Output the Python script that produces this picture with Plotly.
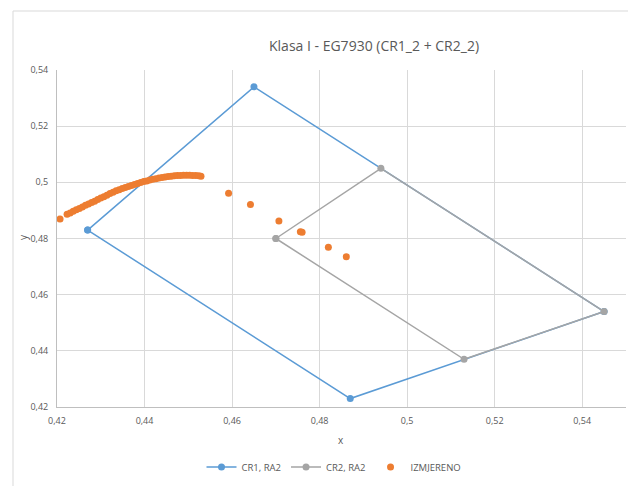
import plotly.graph_objects as go

# CR1, RA2 polygon (closed)
cr1_x = [0.427, 0.465, 0.545, 0.487, 0.427]
cr1_y = [0.483, 0.534, 0.454, 0.423, 0.483]

# CR2, RA2 polygon (closed)
cr2_x = [0.470, 0.494, 0.545, 0.513, 0.470]
cr2_y = [0.480, 0.505, 0.454, 0.437, 0.480]

# IZMJERENO measured points
izm_x = [0.4207, 0.4223, 0.4230, 0.4237, 0.4244, 0.4251, 0.4258, 0.4265, 0.4272, 0.4279,
         0.4286, 0.4293, 0.4300, 0.4307, 0.4314, 0.4321, 0.4328, 0.4335, 0.4342, 0.4349,
         0.4356, 0.4363, 0.4370, 0.4377, 0.4384, 0.4391, 0.4398, 0.4405, 0.4412, 0.4419,
         0.4426, 0.4433, 0.4440, 0.4447, 0.4454, 0.4461, 0.4468, 0.4475, 0.4482, 0.4489,
         0.4496, 0.4503, 0.4510, 0.4517, 0.4524, 0.4529,
         0.4592, 0.4642, 0.4707, 0.4756, 0.4760, 0.4820, 0.4861]
izm_y = [0.4869, 0.4886, 0.4891, 0.4897, 0.4902, 0.4907, 0.4912, 0.4918, 0.4923, 0.4928,
         0.4933, 0.4939, 0.4944, 0.4949, 0.4954, 0.4960, 0.4965, 0.4970, 0.4974, 0.4978,
         0.4982, 0.4985, 0.4989, 0.4992, 0.4996, 0.4999, 0.5003, 0.5005, 0.5008, 0.5011,
         0.5013, 0.5015, 0.5017, 0.5019, 0.5021, 0.5022, 0.5023, 0.5024, 0.5024, 0.5025,
         0.5025, 0.5025, 0.5024, 0.5024, 0.5023, 0.5022,
         0.4961, 0.4921, 0.4862, 0.4824, 0.4822, 0.4769, 0.4735]

x_ticks = [0.42, 0.44, 0.46, 0.48, 0.50, 0.52, 0.54]
x_labels = ["0,42", "0,44", "0,46", "0,48", "0,5", "0,52", "0,54"]
y_ticks = [0.42, 0.44, 0.46, 0.48, 0.50, 0.52, 0.54]
y_labels = ["0,42", "0,44", "0,46", "0,48", "0,5", "0,52", "0,54"]

title_text = "Klasa I - EG7930 (CR1_2 + CR2_2)"

FONT = "Open Sans"
TXT = "#595959"
GRID = "#D9D9D9"

fig = go.Figure()
fig.add_trace(go.Scatter(x=cr1_x, y=cr1_y, mode="lines+markers", name="CR1, RA2",
                         line=dict(color="#5B9BD5", width=1.5),
                         marker=dict(color="#5B9BD5", size=7)))
fig.add_trace(go.Scatter(x=cr2_x, y=cr2_y, mode="lines+markers", name="CR2, RA2",
                         line=dict(color="#A5A5A5", width=1.5),
                         marker=dict(color="#A5A5A5", size=7)))
fig.add_trace(go.Scatter(x=izm_x, y=izm_y, mode="markers", name="IZMJERENO",
                         marker=dict(color="#ED7D31", size=7)))

# page offset (body margin) compensation
OX, OY = 7, 7
W, H = 636, 486
# target plot area in screenshot pixels: left 56, right 625, top 69, bottom 406
L = 56 - OX
R = W - (625 - OX)
T = 69 - OY
B = H - (406 - OY)
pw = W - L - R
ph = H - T - B

def px(xs):
    return (xs - OX - L) / pw

def py(ys):
    return (H - B - (ys - OY)) / ph

fig.update_layout(
    width=W, height=H,
    margin=dict(l=L, r=R, t=T, b=B, autoexpand=False),
    paper_bgcolor="white", plot_bgcolor="white",
    font=dict(family=FONT, color=TXT, size=10),
    showlegend=True,
    legend=dict(orientation="h", x=px(333), xanchor="center", y=py(466), yanchor="middle",
                font=dict(family=FONT, size=9.5, color=TXT), bgcolor="rgba(0,0,0,0)",
                itemwidth=30),
    xaxis=dict(range=[0.42, 0.55], tickvals=x_ticks, ticktext=x_labels,
               showgrid=True, gridcolor=GRID, gridwidth=1, zeroline=False,
               showline=True, linecolor="#BFBFBF", linewidth=1, ticks="",
               ticklabelstandoff=5, automargin=False,
               tickfont=dict(size=9, color=TXT)),
    yaxis=dict(range=[0.42, 0.54], tickvals=y_ticks, ticktext=y_labels,
               showgrid=True, gridcolor=GRID, gridwidth=1, zeroline=False,
               showline=True, linecolor="#BFBFBF", linewidth=1, ticks="",
               ticklabelstandoff=6, automargin=False,
               tickfont=dict(size=9, color=TXT)),
    annotations=[
        dict(text=title_text, x=px(373), y=py(45), xref="paper", yref="paper",
             showarrow=False, font=dict(family=FONT, size=14, color=TXT),
             xanchor="center", yanchor="middle"),
        dict(text="x", x=px(340), y=py(439), xref="paper", yref="paper",
             showarrow=False, font=dict(family=FONT, size=10, color=TXT),
             xanchor="center", yanchor="middle"),
        dict(text="y", x=px(22), y=py(236), xref="paper", yref="paper",
             showarrow=False, textangle=-90, font=dict(family=FONT, size=10, color=TXT),
             xanchor="center", yanchor="middle"),
    ],
    shapes=[
        dict(type="rect", xref="paper", yref="paper",
             x0=px(12), y0=py(H + 20), x1=px(W + 20), y1=py(10),
             line=dict(color="#D9D9D9", width=1), fillcolor="rgba(0,0,0,0)", layer="below"),
    ],
)

fig.write_html("out.html")
